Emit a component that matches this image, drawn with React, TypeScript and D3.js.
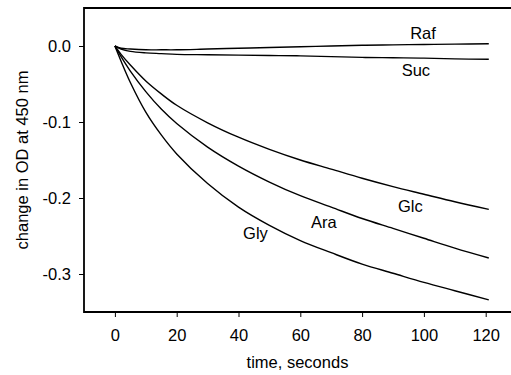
import React, { useRef, useEffect } from "react";
import * as d3 from "d3";

// time points (seconds) and OD change
const times = [0, 2, 5, 10, 15, 20, 30, 40, 50, 60, 70, 80, 90, 100, 110, 121];
const raf = [0, -0.003, -0.004, -0.005, -0.005, -0.005, -0.004, -0.003, -0.002, -0.001, 0.0, 0.001, 0.0015, 0.002, 0.0025, 0.003];
const suc = [0, -0.004, -0.007, -0.009, -0.010, -0.011, -0.0115, -0.012, -0.0125, -0.013, -0.014, -0.015, -0.0155, -0.016, -0.017, -0.0175];
const glc = [0, -0.011, -0.025, -0.046, -0.063, -0.078, -0.101, -0.120, -0.136, -0.150, -0.162, -0.174, -0.185, -0.195, -0.205, -0.215];
const ara = [0, -0.014, -0.033, -0.060, -0.083, -0.102, -0.133, -0.158, -0.179, -0.197, -0.212, -0.227, -0.240, -0.253, -0.266, -0.279];
const gly = [0, -0.020, -0.048, -0.087, -0.117, -0.142, -0.181, -0.212, -0.236, -0.256, -0.272, -0.287, -0.299, -0.311, -0.322, -0.334];

const seriesNames = ["Raf", "Suc", "Glc", "Ara", "Gly"];
const seriesValues = [raf, suc, glc, ara, gly];

// where each curve label sits (data coordinates)
const labelTimes = [99.7, 97.4, 95.6, 67.6, 45.5];
const labelValues = [0.0176, -0.032, -0.210, -0.231, -0.246];

const xTicks = [0, 20, 40, 60, 80, 100, 120];
const yTicks = [0, -0.1, -0.2, -0.3];

function App() {
  const svgRef = useRef(null);

  useEffect(() => {
    const width = 511;
    const height = 375;
    const margin = { top: 8, right: 0, bottom: 63, left: 84 };
    const font = "'Liberation Sans', Arial, sans-serif";

    const svg = d3.select(svgRef.current).attr("width", width).attr("height", height);
    svg.selectAll("*").remove();

    const x = d3.scaleLinear().domain([-10, 130]).range([margin.left, margin.left + 140 * 3.09]);
    const y = d3.scaleLinear().domain([-0.35, 0.05]).range([height - margin.bottom, margin.top]);

    // axes
    const xAxis = svg.append("g")
      .attr("transform", `translate(0, ${height - margin.bottom})`)
      .call(d3.axisBottom(x).tickValues(xTicks).tickSize(5).tickSizeOuter(0).tickPadding(12));
    xAxis.select(".domain").remove();
    xAxis.selectAll("line").attr("stroke", "#000").attr("stroke-width", 1);
    xAxis.selectAll("text").attr("font-family", font).attr("font-size", 16.5).attr("fill", "#000");

    const yAxis = svg.append("g")
      .attr("transform", `translate(${margin.left}, 0)`)
      .call(d3.axisLeft(y).tickValues(yTicks).tickSize(5).tickSizeOuter(0).tickPadding(8)
        .tickFormat((d) => (+d).toFixed(1)));
    yAxis.select(".domain").remove();
    yAxis.selectAll("line").attr("stroke", "#000").attr("stroke-width", 1);
    yAxis.selectAll("text").attr("font-family", font).attr("font-size", 16.5).attr("fill", "#000");

    // frame: top, left, bottom (right side runs off the picture)
    const x0 = margin.left;
    const yTop = margin.top;
    const yBot = height - margin.bottom;
    svg.append("path")
      .attr("d", `M${width},${yTop}H${x0}V${yBot}H${width}`)
      .attr("fill", "none")
      .attr("stroke", "#000")
      .attr("stroke-width", 1.8);

    // curves
    const line = d3.line<number>()
      .x((_, i) => x(times[i]))
      .y((d) => y(d))
      .curve(d3.curveCatmullRom.alpha(0.5));

    svg.append("g")
      .selectAll("path")
      .data(seriesValues)
      .enter()
      .append("path")
      .attr("d", (d) => line(d))
      .attr("fill", "none")
      .attr("stroke", "#000")
      .attr("stroke-width", 1.4);

    // curve labels
    svg.append("g")
      .selectAll("text")
      .data(seriesNames)
      .enter()
      .append("text")
      .attr("x", (_, i) => x(labelTimes[i]))
      .attr("y", (_, i) => y(labelValues[i]))
      .attr("dy", "0.36em")
      .attr("text-anchor", "middle")
      .attr("font-family", font)
      .attr("font-size", 16.5)
      .text((d) => d);

    // axis titles
    svg.append("text")
      .attr("x", (x0 + width) / 2)
      .attr("y", 368)
      .attr("text-anchor", "middle")
      .attr("font-family", font)
      .attr("font-size", 16.5)
      .text("time, seconds");

    svg.append("text")
      .attr("transform", "rotate(-90)")
      .attr("x", -(yTop + yBot) / 2)
      .attr("y", 28)
      .attr("text-anchor", "middle")
      .attr("font-family", font)
      .attr("font-size", 16.5)
      .text("change in OD at 450 nm");
  }, []);

  return <svg ref={svgRef} style={{ position: "absolute", left: 0, top: 0 }}></svg>;
}

export default App;
